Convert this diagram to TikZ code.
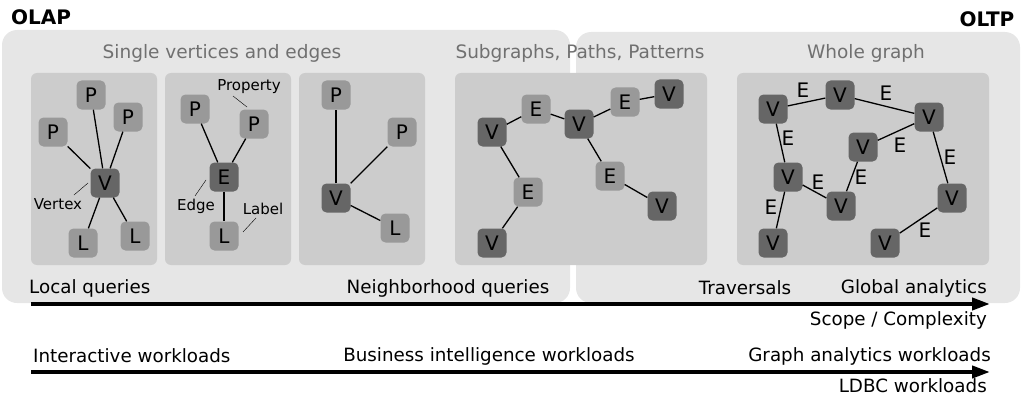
\documentclass[tikz,border=0pt]{standalone}
\usepackage{fontspec}
\setmainfont{DejaVu Sans}
\usetikzlibrary{arrows.meta}
\definecolor{panelgray}{RGB}{230,230,230}
\definecolor{boxgray}{RGB}{204,204,204}
\definecolor{darknode}{RGB}{102,102,102}
\definecolor{lightnode}{RGB}{153,153,153}
\definecolor{titlegray}{RGB}{112,112,112}
\tikzset{
	panel/.style={fill=panelgray,rounded corners=15pt},
	pane/.style={fill=boxgray,rounded corners=6pt},
	gnode/.style={minimum size=29pt,inner sep=0pt,rounded corners=5pt,font=\fontsize{20}{24}\selectfont},
	vnode/.style={gnode,fill=darknode},
	pnode/.style={gnode,fill=lightnode},
	elabel/.style={inner sep=0pt,font=\fontsize{20}{24}\selectfont},
	note/.style={inner sep=1pt,font=\fontsize{15}{18}\selectfont},
	ttl/.style={text=titlegray,font=\fontsize{18.5}{22}\selectfont},
	qtext/.style={inner sep=0pt,font=\fontsize{18.3}{22}\selectfont},
	bigarrow/.style={line width=4pt,-{Triangle[length=18pt,width=12pt]}},
	link/.style={line width=1.3pt}
}
\begin{document}
\begin{tikzpicture}[x=1pt,y=-1pt]
	\useasboundingbox (0,0) rectangle (1023,396);
%	panels
	\fill[panel] (2,30) rectangle (570,303);
	\fill[panel] (576,32) rectangle (1020,303);
	\fill[pane] (31,73) rectangle (157,265);
	\fill[pane] (165,73) rectangle (291,265);
	\fill[pane] (299,73) rectangle (425,265);
	\fill[pane] (455,73) rectangle (707,265);
	\fill[pane] (737,73) rectangle (989,265);
	\node[font=\bfseries\fontsize{20}{24}\selectfont] (olap) at (41,17) {OLAP};
	\node[font=\bfseries\fontsize{20}{24}\selectfont] (oltp) at (987,19) {OLTP};
	\node[ttl] (t1) at (222,53) {Single vertices and edges};
	\node[ttl] (t2) at (580,53) {Subgraphs, Paths, Patterns};
	\node[ttl] (t3) at (866,53) {Whole graph};
%	single vertex
	\node[pnode] (ap1) at (91,95) {P};
	\node[pnode] (ap2) at (128,117) {P};
	\node[pnode] (ap3) at (53,132) {P};
	\node[vnode] (av) at (105,183) {V};
	\node[pnode] (al1) at (83,243) {L};
	\node[pnode] (al2) at (135,236) {L};
	\foreach \n in {ap1,ap2,ap3,al1,al2} \draw[link] (av) -- (\n);
	\node[note] (vertex) at (58,204) {Vertex};
	\coordinate (vx) at (88,183);
	\draw (74,195) -- (vx);
%	single edge
	\node[pnode] (bp1) at (195,109) {P};
	\node[pnode] (bp2) at (254,124) {P};
	\node[vnode] (be) at (224,177) {E};
	\node[pnode] (bl) at (224,236) {L};
	\foreach \n in {bp1,bp2,bl} \draw[link] (be) -- (\n);
	\node[note] (prop) at (249,87) {Property};
	\node[note] (edge) at (196,206) {Edge};
	\node[note] (label) at (263,209) {Label};
	\coordinate (px) at (247,107);
	\coordinate (ex) at (206,180);
	\coordinate (lx) at (243,232);
	\draw (233,96) -- (px);
	\draw (195,196) -- (ex);
	\draw (256,218) -- (lx);
%	neighborhood
	\node[pnode] (cp1) at (336,95) {P};
	\node[pnode] (cp2) at (402,132) {P};
	\node[vnode] (cv) at (336,198) {V};
	\node[pnode] (cl) at (395,228) {L};
	\foreach \n in {cp1,cp2,cl} \draw[link] (cv) -- (\n);
%	subgraph
	\node[vnode] (dv1) at (492,132) {V};
	\node[pnode] (de1) at (536,109) {E};
	\node[vnode] (dv2) at (579,124) {V};
	\node[pnode] (de2) at (625,102) {E};
	\node[vnode] (dv3) at (669,94) {V};
	\node[pnode] (de3) at (610,176) {E};
	\node[vnode] (dv4) at (662,206) {V};
	\node[pnode] (de4) at (528,192) {E};
	\node[vnode] (dv5) at (492,243) {V};
	\draw[link] (dv1) -- (de1) -- (dv2) -- (de2) -- (dv3);
	\draw[link] (dv2) -- (de3) -- (dv4);
	\draw[link] (dv1) -- (de4) -- (dv5);
%	whole graph
	\node[vnode] (w1) at (773,109) {V};
	\node[vnode] (w2) at (840,95) {V};
	\node[vnode] (w3) at (929,117) {V};
	\node[vnode] (w4) at (863,147) {V};
	\node[vnode] (w5) at (788,177) {V};
	\node[vnode] (w6) at (841,206) {V};
	\node[vnode] (w7) at (952,198) {V};
	\node[vnode] (w8) at (773,243) {V};
	\node[vnode] (w9) at (885,243) {V};
	\foreach \a/\b in {w1/w2,w2/w3,w1/w5,w3/w4,w3/w7,w5/w6,w4/w6,w5/w8,w7/w9}
		\draw[link] (\a) -- (\b);
	\foreach \p [count=\i] in {{803,90},{886,93},{788,138},{900,145},{950,157},{818,182},{861,177},{771,207},{925,230}}
		\node[elabel] (we\i) at (\p) {E};
%	axes
	\node[qtext,anchor=west] (q1) at (29,288) {Local queries};
	\node[qtext] (q2) at (448,288) {Neighborhood queries};
	\node[qtext] (q3) at (745,288) {Traversals};
	\node[qtext,anchor=east] (q4) at (987,288) {Global analytics};
	\coordinate (s1) at (31,304);
	\coordinate (s2) at (990,304);
	\draw[bigarrow] (s1) -- (s2);
	\node[qtext,anchor=east] (scope) at (987,320) {Scope / Complexity};
	\node[qtext,anchor=west] (w1t) at (33,356) {Interactive workloads};
	\node[qtext] (w2t) at (489,356) {Business intelligence workloads};
	\node[qtext,anchor=east] (w3t) at (991,356) {Graph analytics workloads};
	\coordinate (l1) at (31,372);
	\coordinate (l2) at (990,372);
	\draw[bigarrow] (l1) -- (l2);
	\node[qtext,anchor=east] (ldbc) at (987,385.5) {LDBC workloads};
\end{tikzpicture}
\end{document}
